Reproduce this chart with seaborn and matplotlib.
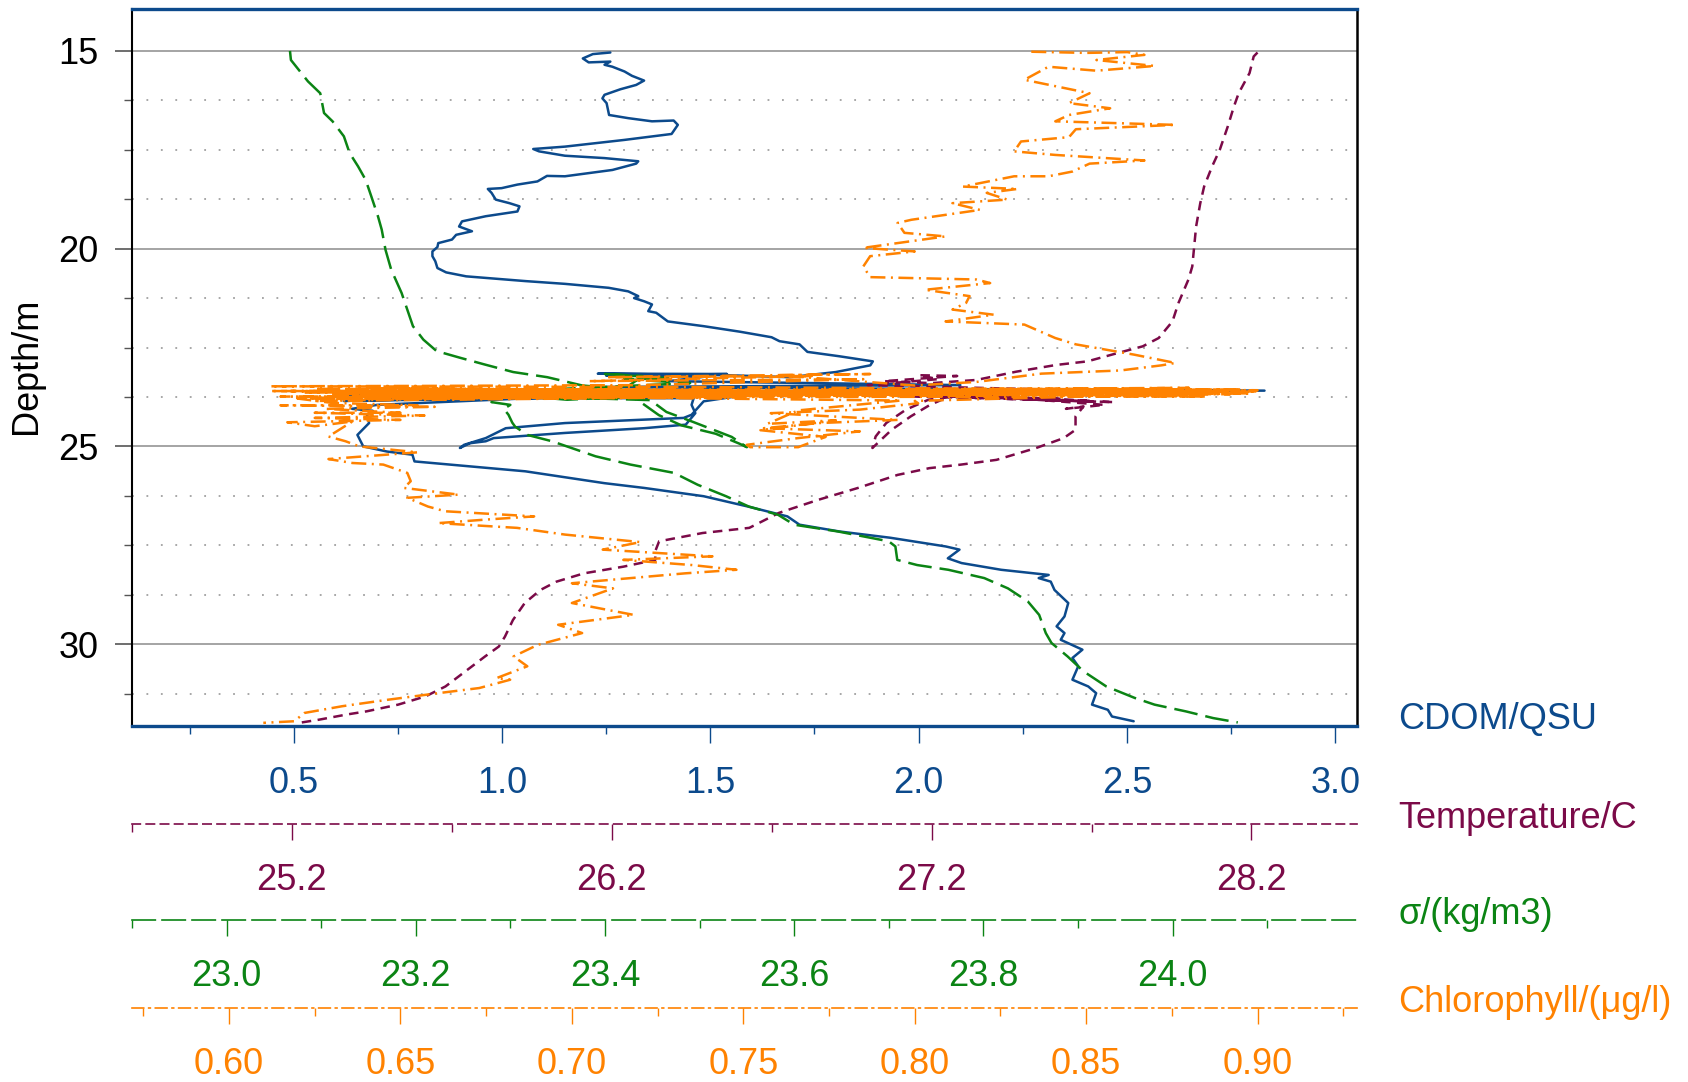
import numpy as np
import pandas as pd
import matplotlib
matplotlib.use("Agg")
import matplotlib.pyplot as plt
import seaborn as sns
from matplotlib.ticker import MultipleLocator, FixedLocator

# ---------------------------------------------------------------------------
# CTD cast: (depth in m, value) in the order the instrument recorded them
# ---------------------------------------------------------------------------
cdom_profile = [
    (15.04, 1.260), (15.08, 1.218), (15.19, 1.194), (15.29, 1.208), (15.27, 1.260),
    (15.35, 1.246), (15.40, 1.265), (15.52, 1.294), (15.63, 1.312), (15.75, 1.341),
    (15.86, 1.322), (15.97, 1.284), (16.11, 1.246), (16.20, 1.241), (16.32, 1.251),
    (16.62, 1.257), (16.70, 1.303), (16.78, 1.360), (16.76, 1.412), (16.87, 1.422),
    (17.10, 1.407), (17.25, 1.294), (17.42, 1.151), (17.48, 1.075), (17.54, 1.089),
    (17.65, 1.151), (17.71, 1.246), (17.79, 1.327), (17.85, 1.322), (18.01, 1.265),
    (18.17, 1.151), (18.16, 1.108), (18.30, 1.085), (18.38, 1.037), (18.47, 0.999),
    (18.49, 0.966), (18.59, 0.975), (18.76, 0.985), (18.85, 1.018), (18.93, 1.042),
    (19.06, 1.037), (19.18, 0.961), (19.31, 0.904), (19.44, 0.897), (19.56, 0.928),
    (19.65, 0.890), (19.77, 0.880), (19.86, 0.847), (19.96, 0.845), (20.07, 0.833),
    (20.19, 0.833), (20.32, 0.840), (20.49, 0.845), (20.60, 0.866), (20.70, 0.914),
    (20.82, 1.056), (20.89, 1.151), (20.99, 1.256), (21.08, 1.303), (21.20, 1.327),
    (21.25, 1.317), (21.33, 1.341), (21.41, 1.360), (21.58, 1.351), (21.62, 1.370),
    (21.84, 1.398), (21.96, 1.484), (22.10, 1.571), (22.24, 1.647), (22.34, 1.666),
    (22.42, 1.714), (22.61, 1.733), (22.72, 1.809), (22.85, 1.890), (22.95, 1.884),
    (23.12, 1.801), (23.25, 1.691),
    # instrument resting near 23.6 m
    (23.20, 1.540), (23.16, 1.230), (23.17, 1.540), (23.21, 1.250), (23.22, 1.500),
    (23.35, 1.400), (23.45, 2.100), (23.50, 1.200), (23.59, 2.830), (23.62, 0.950),
    (23.63, 2.400), (23.66, 0.700), (23.67, 1.800), (23.72, 0.630), (23.60, 2.600),
    (23.64, 0.660), (23.58, 2.750), (23.70, 1.500), (23.78, 0.680), (23.78, 1.460),
    # short dip to 25 m and back
    (23.95, 1.455), (24.16, 1.464), (24.45, 1.441), (24.54, 1.341), (24.66, 1.151),
    (24.79, 0.980), (24.87, 0.961), (24.92, 0.923), (25.04, 0.899), (24.96, 0.909),
    (24.79, 0.961), (24.54, 1.009), (24.41, 1.151), (24.28, 1.436), (24.20, 1.455),
    (23.86, 1.484), (23.74, 1.559), (23.70, 1.595),
    (23.62, 2.600), (23.68, 0.660), (23.60, 2.200), (23.70, 0.640), (23.64, 1.900),
    (23.85, 0.620), (23.72, 1.200), (23.95, 0.700), (24.05, 0.640), (24.10, 0.690),
    (24.20, 0.676),
    # final descent
    (24.41, 0.681), (24.71, 0.653), (25.00, 0.667), (25.13, 0.724), (25.21, 0.785),
    (25.38, 0.790), (25.63, 1.056), (25.93, 1.246), (26.05, 1.341), (26.26, 1.484),
    (26.52, 1.590), (26.77, 1.685), (26.98, 1.714), (27.15, 1.809), (27.31, 1.932),
    (27.53, 2.065), (27.61, 2.098), (27.83, 2.070), (27.95, 2.103), (28.12, 2.198),
    (28.25, 2.312), (28.33, 2.288), (28.42, 2.317), (28.63, 2.326), (28.96, 2.359),
    (29.30, 2.350), (29.55, 2.331), (29.72, 2.350), (29.89, 2.341), (30.14, 2.393),
    (30.35, 2.369), (30.56, 2.383), (30.90, 2.369), (31.07, 2.407), (31.24, 2.426),
    (31.53, 2.416), (31.66, 2.454), (31.83, 2.464), (31.95, 2.516),
]

temperature_profile = [
    (15.04, 28.219), (15.14, 28.207), (15.56, 28.194), (16.07, 28.160), (16.41, 28.145),
    (16.91, 28.126), (17.50, 28.101), (17.92, 28.077), (18.43, 28.052), (18.85, 28.040),
    (19.44, 28.027), (19.94, 28.021), (20.45, 28.015), (20.78, 28.003), (21.37, 27.972),
    (21.84, 27.953), (22.26, 27.910), (22.47, 27.860), (22.63, 27.786), (22.85, 27.687),
    (22.94, 27.590), (23.11, 27.465), (23.32, 27.340),
    (23.40, 27.200), (23.35, 27.050), (23.22, 27.280), (23.20, 27.160), (23.30, 27.220),
    (23.45, 27.000), (23.60, 27.750), (23.62, 26.950), (23.70, 27.700), (23.65, 27.000),
    (23.80, 27.600), (23.72, 27.100), (23.88, 27.770), (23.75, 27.250), (23.82, 27.190),
    (24.07, 27.120), (24.41, 27.058), (24.75, 27.025), (25.04, 27.015), (24.58, 27.075),
    (24.24, 27.135), (23.95, 27.195), (23.74, 27.255),
    (23.85, 27.700), (23.68, 27.300), (23.95, 27.740), (24.05, 27.620), (23.99, 27.675),
    (24.24, 27.650),
    (24.58, 27.650), (24.79, 27.613), (25.04, 27.527), (25.34, 27.403), (25.46, 27.292),
    (25.55, 27.193), (25.72, 27.094), (26.05, 26.970), (26.35, 26.846), (26.68, 26.723),
    (27.06, 26.630), (27.19, 26.484), (27.40, 26.348), (27.65, 26.336), (27.87, 26.336),
    (28.04, 26.237), (28.21, 26.113), (28.42, 26.027), (28.63, 25.977), (28.96, 25.928),
    (29.39, 25.891), (29.81, 25.866), (30.06, 25.847), (30.31, 25.804), (30.69, 25.742),
    (31.07, 25.680), (31.32, 25.618), (31.53, 25.532), (31.70, 25.433), (31.78, 25.371),
    (31.91, 25.285), (31.99, 25.223),
]

sigma_profile = [
    (15.00, 23.067), (15.23, 23.068), (15.77, 23.086), (16.07, 23.099), (16.57, 23.103),
    (16.78, 23.112), (17.16, 23.124), (17.58, 23.130), (17.92, 23.139), (18.26, 23.147),
    (18.68, 23.153), (19.18, 23.160), (19.52, 23.164), (20.03, 23.168), (20.53, 23.174),
    (21.12, 23.185), (21.54, 23.191), (21.96, 23.197), (22.30, 23.208), (22.59, 23.222),
    (22.76, 23.247), (22.93, 23.273), (23.12, 23.303), (23.25, 23.339), (23.46, 23.376),
    (23.55, 23.420), (23.22, 23.440), (23.17, 23.400), (23.28, 23.470), (23.30, 23.420),
    (23.40, 23.490), (23.55, 23.350), (23.58, 23.270), (23.60, 23.310), (23.62, 23.260),
    (23.70, 23.450), (23.78, 23.330), (23.75, 23.420), (23.82, 23.360), (23.68, 23.290),
    (23.71, 23.428),
    (23.92, 23.440), (24.21, 23.457), (24.47, 23.481), (24.68, 23.517), (24.93, 23.542),
    (25.02, 23.550), (24.76, 23.534), (24.38, 23.493), (24.13, 23.465), (23.83, 23.448),
    (23.78, 23.380), (23.70, 23.300), (23.88, 23.280), (23.95, 23.300), (24.05, 23.293),
    (24.20, 23.298), (24.40, 23.302), (24.50, 23.305),
    (24.71, 23.318), (24.87, 23.344), (25.25, 23.390), (25.46, 23.427), (25.67, 23.473),
    (25.97, 23.498), (26.26, 23.528), (26.52, 23.552), (26.73, 23.583), (26.98, 23.600),
    (27.15, 23.646), (27.40, 23.700), (27.53, 23.707), (27.87, 23.709), (28.00, 23.730),
    (28.12, 23.763), (28.33, 23.801), (28.59, 23.826), (28.92, 23.847), (29.26, 23.859),
    (29.72, 23.866), (29.97, 23.872), (30.31, 23.889), (30.69, 23.906), (31.07, 23.930),
    (31.36, 23.960), (31.53, 23.981), (31.70, 24.014), (31.87, 24.043), (31.98, 24.069),
]

chlorophyll_profile = [
    (15.02, 0.834), (15.05, 0.850), (15.03, 0.862), (15.10, 0.867), (15.23, 0.853),
    (15.38, 0.870), (15.50, 0.853), (15.40, 0.839), (15.73, 0.832), (16.07, 0.851),
    (16.32, 0.845), (16.45, 0.857), (16.62, 0.845), (16.78, 0.841), (16.87, 0.876),
    (16.98, 0.847), (17.18, 0.845), (17.29, 0.831), (17.54, 0.829), (17.63, 0.841),
    (17.77, 0.867), (17.85, 0.851), (18.05, 0.846), (18.17, 0.839), (18.17, 0.829),
    (18.43, 0.814), (18.49, 0.830), (18.59, 0.821), (18.76, 0.827), (18.85, 0.811),
    (19.02, 0.819), (19.27, 0.799), (19.35, 0.795), (19.60, 0.797), (19.69, 0.809),
    (19.98, 0.785), (20.07, 0.800), (20.19, 0.787), (20.45, 0.785), (20.72, 0.787),
    (20.78, 0.818), (20.87, 0.822), (21.04, 0.803), (21.20, 0.816), (21.37, 0.815),
    (21.54, 0.811), (21.67, 0.823), (21.84, 0.809), (21.92, 0.832), (22.26, 0.841),
    (22.42, 0.847), (22.68, 0.864), (22.89, 0.876), (22.95, 0.872), (23.08, 0.860),
    (23.16, 0.837), (23.37, 0.818), (23.46, 0.800),
    (23.20, 0.760), (23.17, 0.787), (23.25, 0.710), (23.22, 0.770), (23.35, 0.705),
    (23.30, 0.785), (23.45, 0.720), (23.47, 0.659), (23.48, 0.612), (23.50, 0.740),
    (23.58, 0.900), (23.55, 0.625), (23.62, 0.880), (23.60, 0.618), (23.65, 0.850),
    (23.68, 0.630), (23.56, 0.895), (23.66, 0.640), (23.72, 0.820), (23.74, 0.615),
    (23.60, 0.870), (23.77, 0.650), (23.70, 0.800), (23.80, 0.630), (23.54, 0.860),
    (23.72, 0.700), (23.62, 0.890), (23.64, 0.622), (23.52, 0.880), (23.69, 0.645),
    (23.66, 0.898), (23.58, 0.660), (23.74, 0.885), (23.76, 0.628), (23.63, 0.840),
    (23.60, 0.612), (23.68, 0.892), (23.70, 0.655), (23.57, 0.870), (23.66, 0.634),
    (23.71, 0.880), (23.53, 0.640), (23.64, 0.860), (23.78, 0.620), (23.61, 0.900),
    (23.73, 0.680), (23.66, 0.885), (23.85, 0.800),
    (23.91, 0.801), (24.07, 0.784), (24.16, 0.758), (24.33, 0.795), (24.41, 0.772),
    (24.54, 0.756), (24.62, 0.784), (24.79, 0.766), (24.96, 0.751), (25.02, 0.752),
    (25.02, 0.766), (24.76, 0.774), (24.59, 0.755), (24.34, 0.777), (24.43, 0.757),
    (24.09, 0.766), (23.84, 0.796),
    (23.70, 0.640), (23.62, 0.780), (23.85, 0.625), (23.75, 0.750), (23.80, 0.665),
    (23.79, 0.620), (23.90, 0.630), (23.96, 0.655), (23.96, 0.615), (24.00, 0.660),
    (24.05, 0.628), (24.15, 0.650), (24.15, 0.625), (24.22, 0.657), (24.28, 0.625),
    (24.33, 0.650), (24.39, 0.617),
    (24.49, 0.625), (24.37, 0.636), (24.75, 0.629), (24.87, 0.634), (25.00, 0.638),
    (25.15, 0.655), (25.32, 0.629), (25.42, 0.636), (25.46, 0.645), (25.67, 0.652),
    (25.88, 0.653), (26.05, 0.651), (26.22, 0.667), (26.30, 0.652), (26.52, 0.658),
    (26.64, 0.663), (26.77, 0.689), (26.85, 0.675), (26.94, 0.661), (27.06, 0.684),
    (27.23, 0.698), (27.42, 0.720), (27.61, 0.709), (27.78, 0.741), (27.87, 0.715),
    (28.00, 0.735), (28.12, 0.748), (28.21, 0.733), (28.46, 0.700), (28.59, 0.712),
    (28.96, 0.700), (29.26, 0.718), (29.51, 0.696), (29.72, 0.703), (30.02, 0.690),
    (30.31, 0.683), (30.56, 0.687), (30.86, 0.678), (30.90, 0.682), (31.11, 0.673),
    (31.24, 0.661), (31.41, 0.646), (31.57, 0.633), (31.74, 0.622), (31.95, 0.619),
    (31.99, 0.610),
]

# axis ranges and tick labels
depth_range = (32.07, 13.94)
depth_ticks = [15, 20, 25, 30]
cdom_range = (0.112, 3.052)
cdom_ticks = [0.5, 1.0, 1.5, 2.0, 2.5, 3.0]
temp_range = (24.7, 28.53)
temp_ticks = [25.2, 26.2, 27.2, 28.2]
sigma_range = (22.9, 24.195)
sigma_ticks = [23.0, 23.2, 23.4, 23.6, 23.8, 24.0]
chl_range = (0.5717, 0.929)
chl_ticks = [0.60, 0.65, 0.70, 0.75, 0.80, 0.85, 0.90]

BLUE = "#0c4a8c"
MAROON = "#7b0a48"
GREEN = "#0b8414"
ORANGE = "#ff8200"
FS = 26

sns.set_theme(style="white")
plt.rcParams["font.family"] = ["Liberation Sans", "DejaVu Sans"]
plt.rcParams["font.size"] = FS
plt.rcParams["axes.unicode_minus"] = False

W, H = 1688, 1082
fig = plt.figure(figsize=(W / 100, H / 100), dpi=100)
fig.patch.set_facecolor("white")
ax = fig.add_axes([132 / W, 1 - 726 / H, 1225 / W, 717 / H])


def frame(profile):
    return pd.DataFrame(profile, columns=["depth", "value"])


px_to_pt = 72 / 100
series = [
    # (profile, colour, line style, range, ticks, minor step, spine offset px, spine style, fmt)
    (temperature_profile, MAROON, (0, (3.8, 2.6)), temp_range, temp_ticks, None,
     98, (0, (5, 3.5)), "{:.1f}"),
    (sigma_profile, GREEN, (0, (9.5, 3.2)), sigma_range, sigma_ticks, 0.1,
     194, (0, (14, 4)), "{:.1f}"),
    (chlorophyll_profile, ORANGE, (0, (6.0, 2.2, 0.8, 2.2)), chl_range, chl_ticks, 0.025,
     282, (0, (7, 3, 1, 3)), "{:.2f}"),
]

# CDOM on the main axes
sns.lineplot(data=frame(cdom_profile), x="value", y="depth", ax=ax, sort=False,
             estimator=None, orient="y", color=BLUE, linewidth=1.8, zorder=3)
ax.set_xlim(*cdom_range)
ax.set_ylim(*depth_range)

twins = []
for i, (prof, col, ls, rng, ticks, minor, off, sls, fmt) in enumerate(series):
    tw = ax.twiny()
    sns.lineplot(data=frame(prof), x="value", y="depth", ax=tw, sort=False,
                 estimator=None, orient="y", color=col, linewidth=1.8,
                 linestyle=ls, zorder=4 + i)
    tw.set_xlim(*rng)
    tw.set_ylim(*depth_range)
    tw.set_xlabel("")
    tw.set_ylabel("")
    tw.xaxis.set_ticks_position("bottom")
    tw.xaxis.set_label_position("bottom")
    for s in ("top", "left", "right"):
        tw.spines[s].set_visible(False)
    sp = tw.spines["bottom"]
    sp.set_visible(True)
    sp.set_position(("outward", off * px_to_pt))
    sp.set_color(col)
    sp.set_linewidth(1.2)
    sp.set_linestyle(sls)
    tw.xaxis.set_major_locator(FixedLocator(ticks))
    tw.set_xticklabels([fmt.format(t) for t in ticks])
    if minor is None:
        minor_locs = [t - 0.5 for t in ticks] + [ticks[-1] + 0.5]
        tw.xaxis.set_minor_locator(FixedLocator(minor_locs))
    else:
        tw.xaxis.set_minor_locator(MultipleLocator(minor))
    tw.tick_params(axis="x", which="major", direction="out", length=11.5, width=1,
                   color=col, labelcolor=col, labelsize=FS, pad=16.5,
                   top=False, bottom=True, labeltop=False, labelbottom=True)
    tw.tick_params(axis="x", which="minor", direction="out", length=5.8, width=1,
                   color=col, top=False, bottom=True)
    twins.append(tw)

# depth axis, grid and frame
ax.set_xlabel("")
ax.set_ylabel("")
ax.yaxis.set_major_locator(FixedLocator(depth_ticks))
ax.yaxis.set_minor_locator(MultipleLocator(1.25))
ax.xaxis.set_major_locator(FixedLocator(cdom_ticks))
ax.xaxis.set_minor_locator(MultipleLocator(0.25))
ax.set_xticklabels([f"{t:.1f}" for t in cdom_ticks])
ax.set_yticklabels([str(t) for t in depth_ticks])
ax.grid(False)
ax.grid(True, which="major", axis="y", color="#8c8c8c", linewidth=1.1, zorder=0)
ax.grid(True, which="minor", axis="y", color="#a0a0a0", linewidth=1.3,
        linestyle=(0, (1, 7)), zorder=0)
ax.tick_params(axis="y", which="major", direction="out", length=12.2, width=1.2,
               color="#555555", labelcolor="black", labelsize=FS, pad=12, left=True)
ax.tick_params(axis="y", which="minor", direction="out", length=6, width=1,
               color="#555555", left=True)
ax.tick_params(axis="x", which="major", direction="out", length=12, width=1,
               color=BLUE, labelcolor=BLUE, labelsize=FS, pad=16.5, bottom=True)
ax.tick_params(axis="x", which="minor", direction="out", length=6, width=1,
               color=BLUE, bottom=True)
ax.spines["left"].set_color("black")
ax.spines["left"].set_linewidth(1.5)
ax.spines["right"].set_color("black")
ax.spines["right"].set_linewidth(1.8)
ax.spines["top"].set_color(BLUE)
ax.spines["top"].set_linewidth(2.4)
ax.spines["bottom"].set_color(BLUE)
ax.spines["bottom"].set_linewidth(2.4)
for s in ax.spines.values():
    s.set_zorder(10)

# axis titles
fig.text(27 / W, 1 - 366 / H, "Depth/m", rotation=90, ha="center", va="center",
         fontsize=FS, color="black")
label_x = 1398 / W
fig.text(label_x, 1 - 720 / H, "CDOM/QSU", ha="left", va="center", fontsize=FS, color=BLUE)
fig.text(label_x, 1 - 818 / H, "Temperature/C", ha="left", va="center", fontsize=FS,
         color=MAROON)
fig.text(label_x, 1 - 914 / H, "σ/(kg/m3)", ha="left", va="center", fontsize=FS, color=GREEN)
fig.text(label_x, 1 - 1003 / H, "Chlorophyll/(μg/l)", ha="left", va="center", fontsize=FS,
         color=ORANGE)

fig.savefig("out.png", dpi=100, facecolor="white")
